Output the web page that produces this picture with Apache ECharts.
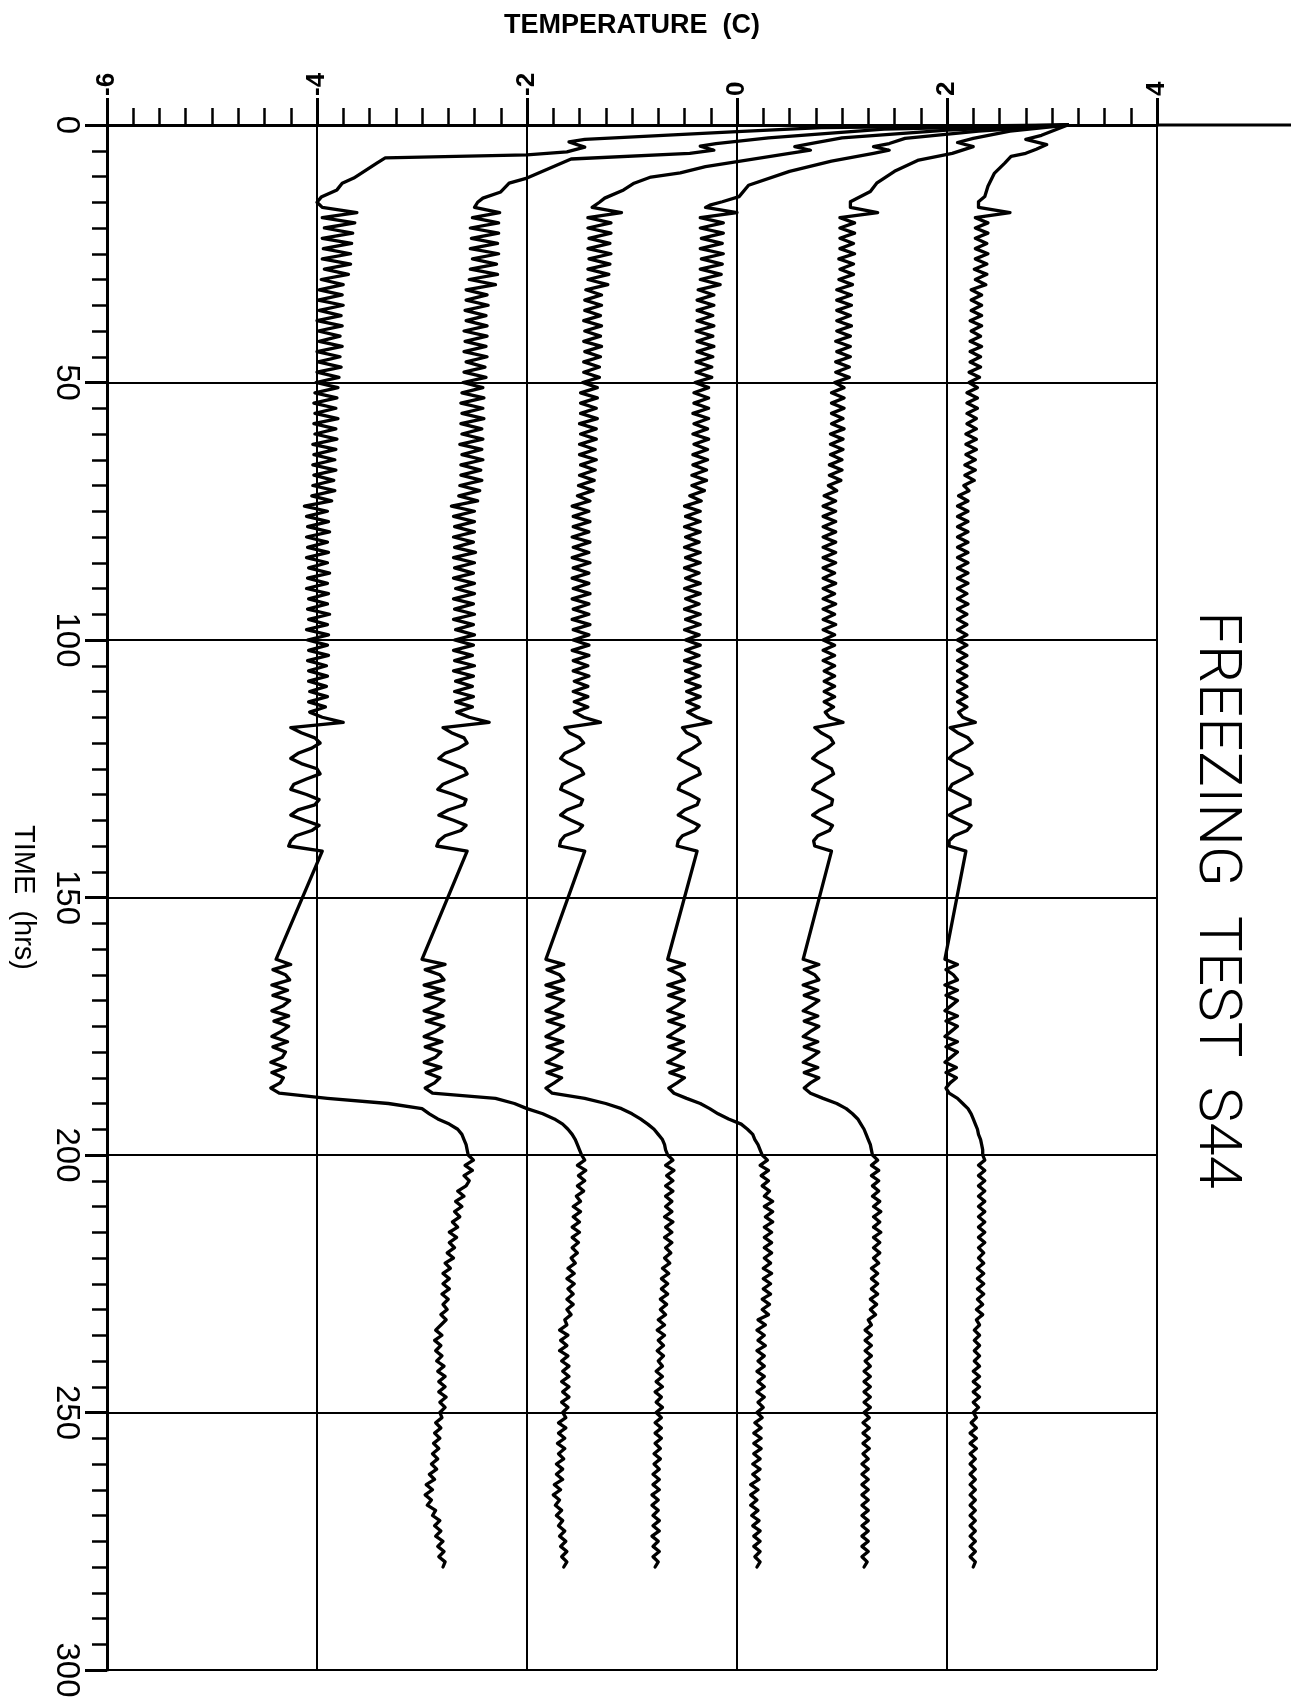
<!DOCTYPE html>
<html><head><meta charset="utf-8">
<script src="https://cdn.jsdelivr.net/npm/echarts@6/dist/echarts.min.js"></script>
<style>html,body{margin:0;padding:0;background:#fff}#c{width:1307px;height:1701px}</style>
</head><body><div id="c"></div>
<script>
// Axis ranges / ticks
const tempMin = -6, tempMax = 4, tempStep = 2;
const timeMin = 0, timeMax = 300, timeStep = 50;
const titleText = 'FREEZING  TEST  S44';
const tempAxisName = 'TEMPERATURE  (C)';
const timeAxisName = 'TIME  (hrs)';

// Early cooling path of each curve: [time (hrs), temperature (C)]
const s1_early = [[0,3.15],[0.5,0.8],[1.3,0],[2.8,-1.45],[3.3,-1.6],[4.3,-1.45],[5.2,-1.62],[5.8,-2.0],[6.4,-3.35],[7.4,-3.43],[10.3,-3.65],[11.3,-3.76],[12.6,-3.81],[14,-3.96],[15,-4.0]];
const s2_early = [[0,3.15],[0.8,1.4],[2.5,0.3],[3.6,-0.2],[4.1,-0.35],[4.9,-0.22],[5.5,-0.45],[6.6,-1.58],[10.3,-2.0],[11.3,-2.17],[13,-2.25],[14.2,-2.42],[15,-2.47]];
const s3_early = [[0,3.15],[1.0,2.0],[2.5,1.0],[3.6,0.7],[4.2,0.55],[4.9,0.7],[5.5,0.5],[8.1,-0.3],[9.3,-0.54],[10.1,-0.82],[11.3,-0.98],[12.6,-1.08],[14.2,-1.26],[15,-1.31]];
const s4_early = [[0,3.15],[1.2,2.3],[2.6,1.6],[3.6,1.45],[4.2,1.3],[4.9,1.45],[5.5,1.3],[7,0.9],[9,0.5],[11.7,0.11],[13.9,0.02],[14.9,-0.14],[15.5,-0.25]];
const s5_early = [[0,3.15],[1.2,2.6],[2.6,2.25],[3.4,2.1],[4.2,2.25],[5.5,2.05],[6.8,1.73],[9,1.5],[11.3,1.33],[12.9,1.27],[14.9,1.08]];
const s6_early = [[0,3.15],[2.0,2.9],[2.8,2.75],[3.8,2.95],[4.7,2.85],[5.5,2.75],[6.1,2.61],[7.4,2.55],[9.4,2.45],[11.9,2.39],[13.9,2.36],[14.9,2.3]];

// Hourly readings, hours 16..141
const s1_a = [
-3.95,-3.62,-3.95,-3.64,-3.93,-3.66,-3.95,-3.67,-3.94,-3.68,
-3.95,-3.68,-3.93,-3.70,-3.96,-3.75,-3.98,-3.76,-3.99,-3.75,
-3.98,-3.77,-4.00,-3.76,-3.99,-3.78,-3.98,-3.76,-4.00,-3.78,
-3.99,-3.77,-4.00,-3.79,-4.01,-3.80,-4.02,-3.81,-4.03,-3.82,
-4.02,-3.80,-4.03,-3.82,-4.02,-3.81,-4.04,-3.82,-4.03,-3.83,
-4.04,-3.82,-4.03,-3.84,-4.04,-3.83,-4.05,-3.86,-4.12,-3.90,
-4.10,-3.89,-4.09,-3.88,-4.10,-3.90,-4.09,-3.89,-4.10,-3.90,
-4.08,-3.88,-4.09,-3.90,-4.10,-3.89,-4.08,-3.90,-4.09,-3.88,
-4.08,-3.90,-4.10,-3.89,-4.09,-3.90,-4.08,-3.89,-4.09,-3.91,
-4.08,-3.90,-4.08,-3.91,-4.07,-3.90,-4.08,-3.92,-4.07,-3.95,
-3.75,-4.25,-4.15,-4.02,-3.97,-4.05,-4.18,-4.25,-4.15,-4.00,
-3.97,-4.10,-4.22,-4.25,-4.10,-3.98,-4.02,-4.18,-4.25,-4.12,
-3.98,-4.05,-4.20,-4.25,-4.27,-3.95];
const s2_a = [
-2.50,-2.26,-2.52,-2.27,-2.54,-2.27,-2.53,-2.28,-2.54,-2.27,
-2.52,-2.29,-2.54,-2.28,-2.55,-2.30,-2.58,-2.38,-2.58,-2.37,
-2.59,-2.39,-2.58,-2.38,-2.60,-2.38,-2.59,-2.39,-2.60,-2.38,
-2.58,-2.40,-2.60,-2.39,-2.61,-2.42,-2.62,-2.41,-2.63,-2.42,
-2.62,-2.41,-2.63,-2.43,-2.62,-2.42,-2.64,-2.43,-2.62,-2.42,
-2.63,-2.44,-2.63,-2.43,-2.64,-2.45,-2.65,-2.47,-2.72,-2.50,
-2.70,-2.50,-2.69,-2.50,-2.70,-2.51,-2.69,-2.49,-2.70,-2.50,
-2.69,-2.51,-2.70,-2.50,-2.68,-2.50,-2.70,-2.51,-2.69,-2.50,
-2.70,-2.51,-2.68,-2.50,-2.69,-2.51,-2.70,-2.52,-2.69,-2.50,
-2.70,-2.51,-2.68,-2.52,-2.69,-2.51,-2.68,-2.52,-2.67,-2.55,
-2.36,-2.80,-2.72,-2.60,-2.57,-2.65,-2.78,-2.84,-2.72,-2.60,
-2.57,-2.68,-2.80,-2.85,-2.70,-2.58,-2.60,-2.75,-2.84,-2.70,
-2.58,-2.63,-2.78,-2.84,-2.86,-2.57];
const s3_a = [
-1.38,-1.10,-1.42,-1.20,-1.42,-1.20,-1.41,-1.21,-1.42,-1.20,
-1.41,-1.21,-1.42,-1.22,-1.42,-1.23,-1.44,-1.29,-1.45,-1.29,
-1.45,-1.30,-1.46,-1.29,-1.45,-1.30,-1.46,-1.29,-1.45,-1.30,
-1.46,-1.31,-1.46,-1.31,-1.47,-1.33,-1.49,-1.33,-1.49,-1.34,
-1.49,-1.33,-1.50,-1.34,-1.49,-1.34,-1.50,-1.35,-1.50,-1.34,
-1.49,-1.35,-1.50,-1.36,-1.51,-1.37,-1.52,-1.40,-1.57,-1.41,
-1.56,-1.40,-1.56,-1.41,-1.57,-1.40,-1.56,-1.41,-1.57,-1.40,
-1.56,-1.41,-1.57,-1.41,-1.56,-1.40,-1.57,-1.41,-1.56,-1.41,
-1.57,-1.40,-1.56,-1.41,-1.56,-1.41,-1.57,-1.41,-1.56,-1.42,
-1.56,-1.41,-1.55,-1.42,-1.56,-1.42,-1.55,-1.42,-1.55,-1.46,
-1.30,-1.64,-1.60,-1.50,-1.46,-1.53,-1.64,-1.68,-1.60,-1.49,
-1.46,-1.56,-1.66,-1.68,-1.57,-1.47,-1.49,-1.62,-1.68,-1.58,
-1.47,-1.51,-1.64,-1.68,-1.69,-1.45];
const s4_a = [
-0.30,0.00,-0.35,-0.13,-0.35,-0.13,-0.34,-0.14,-0.35,-0.13,
-0.34,-0.14,-0.35,-0.15,-0.35,-0.16,-0.37,-0.22,-0.38,-0.22,
-0.38,-0.23,-0.38,-0.22,-0.39,-0.23,-0.38,-0.22,-0.38,-0.23,
-0.39,-0.24,-0.39,-0.24,-0.40,-0.27,-0.41,-0.27,-0.41,-0.27,
-0.42,-0.27,-0.41,-0.28,-0.42,-0.27,-0.41,-0.28,-0.42,-0.28,
-0.42,-0.29,-0.43,-0.29,-0.43,-0.31,-0.45,-0.34,-0.50,-0.35,
-0.49,-0.35,-0.50,-0.35,-0.49,-0.36,-0.50,-0.35,-0.49,-0.35,
-0.50,-0.36,-0.49,-0.35,-0.50,-0.35,-0.49,-0.36,-0.50,-0.35,
-0.49,-0.35,-0.50,-0.36,-0.49,-0.35,-0.49,-0.36,-0.50,-0.35,
-0.49,-0.36,-0.49,-0.35,-0.48,-0.35,-0.48,-0.36,-0.47,-0.38,
-0.25,-0.52,-0.48,-0.38,-0.35,-0.42,-0.52,-0.56,-0.47,-0.37,
-0.35,-0.45,-0.54,-0.56,-0.45,-0.36,-0.38,-0.50,-0.56,-0.46,
-0.36,-0.40,-0.52,-0.56,-0.57,-0.38];
const s5_a = [
1.08,1.34,0.98,1.12,0.98,1.12,0.98,1.11,0.98,1.12,
0.97,1.11,0.98,1.11,0.97,1.10,0.95,1.09,0.95,1.09,
0.95,1.08,0.95,1.09,0.95,1.08,0.94,1.08,0.95,1.08,
0.94,1.07,0.94,1.07,0.93,1.02,0.90,1.02,0.90,1.02,
0.90,1.01,0.90,1.02,0.89,1.01,0.89,1.01,0.89,1.00,
0.88,1.00,0.88,0.99,0.87,0.95,0.83,0.94,0.82,0.94,
0.82,0.94,0.82,0.94,0.82,0.94,0.82,0.94,0.82,0.94,
0.82,0.93,0.82,0.94,0.82,0.93,0.82,0.94,0.82,0.93,
0.82,0.94,0.82,0.93,0.82,0.93,0.82,0.93,0.82,0.93,
0.83,0.93,0.83,0.93,0.83,0.93,0.83,0.92,0.84,0.88,
1.01,0.74,0.80,0.89,0.92,0.86,0.77,0.72,0.80,0.90,
0.92,0.84,0.75,0.72,0.82,0.91,0.90,0.79,0.72,0.81,
0.91,0.88,0.77,0.73,0.74,0.90];
const s6_a = [
2.30,2.60,2.27,2.39,2.27,2.39,2.27,2.38,2.27,2.39,
2.27,2.38,2.26,2.38,2.27,2.37,2.23,2.33,2.23,2.33,
2.23,2.33,2.22,2.33,2.23,2.32,2.22,2.33,2.22,2.32,
2.22,2.32,2.21,2.31,2.21,2.29,2.19,2.29,2.19,2.29,
2.19,2.28,2.19,2.28,2.18,2.28,2.18,2.28,2.18,2.27,
2.17,2.27,2.17,2.26,2.16,2.21,2.11,2.20,2.10,2.20,
2.10,2.20,2.10,2.20,2.10,2.20,2.10,2.20,2.10,2.20,
2.10,2.20,2.10,2.20,2.10,2.19,2.10,2.20,2.10,2.19,
2.10,2.19,2.10,2.19,2.10,2.19,2.10,2.19,2.10,2.19,
2.10,2.19,2.10,2.19,2.10,2.19,2.10,2.19,2.11,2.15,
2.27,2.03,2.10,2.20,2.24,2.17,2.07,2.02,2.10,2.21,
2.24,2.15,2.05,2.02,2.12,2.22,2.22,2.10,2.02,2.12,
2.23,2.19,2.07,2.02,2.02,2.18];

// Hourly readings, hours 162..280 (gap 142..161 is drawn as a straight pen line)
const s1_b = [
-4.39,-4.25,-4.42,-4.30,-4.26,-4.43,-4.28,-4.42,-4.26,-4.32,
-4.43,-4.27,-4.41,-4.27,-4.34,-4.43,-4.28,-4.42,-4.30,-4.33,
-4.44,-4.30,-4.43,-4.32,-4.35,-4.44,-4.36,-3.90,-3.32,-3.00,
-2.93,-2.85,-2.74,-2.66,-2.62,-2.60,-2.58,-2.57,-2.56,-2.51,
-2.59,-2.52,-2.60,-2.55,-2.58,-2.66,-2.60,-2.68,-2.62,-2.69,
-2.64,-2.71,-2.66,-2.74,-2.67,-2.74,-2.69,-2.76,-2.70,-2.78,
-2.73,-2.80,-2.74,-2.80,-2.74,-2.81,-2.75,-2.80,-2.76,-2.82,
-2.77,-2.82,-2.87,-2.81,-2.88,-2.82,-2.87,-2.81,-2.86,-2.79,
-2.85,-2.78,-2.84,-2.78,-2.84,-2.77,-2.83,-2.78,-2.83,-2.81,
-2.87,-2.82,-2.88,-2.83,-2.89,-2.84,-2.90,-2.85,-2.91,-2.86,
-2.93,-2.88,-2.96,-2.90,-2.97,-2.91,-2.95,-2.87,-2.90,-2.83,
-2.88,-2.82,-2.87,-2.80,-2.85,-2.79,-2.84,-2.78,-2.80];
const s2_b = [
-3.00,-2.78,-2.97,-2.83,-2.79,-2.98,-2.80,-2.97,-2.79,-2.86,
-2.98,-2.80,-2.96,-2.79,-2.87,-2.98,-2.81,-2.97,-2.82,-2.87,
-2.98,-2.82,-2.96,-2.83,-2.88,-2.97,-2.90,-2.30,-2.12,-2.00,
-1.85,-1.74,-1.66,-1.61,-1.57,-1.54,-1.52,-1.50,-1.48,-1.45,
-1.52,-1.44,-1.51,-1.45,-1.52,-1.46,-1.53,-1.49,-1.56,-1.49,
-1.56,-1.50,-1.57,-1.50,-1.57,-1.51,-1.57,-1.52,-1.58,-1.54,
-1.61,-1.55,-1.62,-1.55,-1.61,-1.56,-1.62,-1.56,-1.62,-1.58,
-1.64,-1.62,-1.69,-1.61,-1.68,-1.62,-1.69,-1.61,-1.67,-1.60,
-1.66,-1.60,-1.67,-1.60,-1.66,-1.60,-1.67,-1.61,-1.66,-1.63,
-1.70,-1.63,-1.70,-1.64,-1.71,-1.64,-1.70,-1.65,-1.72,-1.66,
-1.72,-1.66,-1.74,-1.68,-1.75,-1.69,-1.73,-1.67,-1.72,-1.66,
-1.70,-1.64,-1.69,-1.63,-1.68,-1.62,-1.67,-1.62,-1.65];
const s3_b = [
-1.82,-1.65,-1.81,-1.69,-1.65,-1.82,-1.66,-1.81,-1.65,-1.72,
-1.82,-1.66,-1.81,-1.65,-1.73,-1.82,-1.66,-1.81,-1.66,-1.73,
-1.82,-1.67,-1.81,-1.67,-1.74,-1.82,-1.76,-1.45,-1.25,-1.10,
-1.00,-0.92,-0.85,-0.79,-0.75,-0.71,-0.69,-0.68,-0.66,-0.61,
-0.68,-0.60,-0.67,-0.61,-0.68,-0.61,-0.68,-0.62,-0.68,-0.62,
-0.69,-0.61,-0.68,-0.62,-0.69,-0.62,-0.68,-0.63,-0.69,-0.64,
-0.71,-0.65,-0.72,-0.66,-0.72,-0.66,-0.73,-0.67,-0.73,-0.68,
-0.75,-0.69,-0.76,-0.69,-0.75,-0.70,-0.76,-0.70,-0.75,-0.71,
-0.77,-0.71,-0.77,-0.71,-0.78,-0.72,-0.77,-0.71,-0.77,-0.72,
-0.78,-0.72,-0.78,-0.72,-0.78,-0.73,-0.79,-0.73,-0.79,-0.74,
-0.80,-0.74,-0.80,-0.74,-0.81,-0.75,-0.81,-0.75,-0.80,-0.74,
-0.80,-0.74,-0.81,-0.75,-0.80,-0.74,-0.80,-0.75,-0.78];
const s4_b = [
-0.66,-0.50,-0.65,-0.54,-0.50,-0.66,-0.51,-0.65,-0.50,-0.57,
-0.66,-0.51,-0.65,-0.50,-0.58,-0.66,-0.51,-0.65,-0.50,-0.57,
-0.66,-0.51,-0.64,-0.50,-0.57,-0.65,-0.60,-0.48,-0.35,-0.26,
-0.18,-0.08,0.04,0.10,0.15,0.17,0.20,0.22,0.24,0.29,
0.22,0.30,0.23,0.30,0.24,0.31,0.26,0.34,0.26,0.34,
0.27,0.34,0.26,0.33,0.26,0.33,0.26,0.33,0.26,0.32,
0.25,0.33,0.25,0.32,0.25,0.32,0.24,0.31,0.24,0.30,
0.20,0.27,0.19,0.26,0.20,0.27,0.19,0.26,0.20,0.26,
0.19,0.26,0.20,0.26,0.19,0.26,0.20,0.25,0.19,0.24,
0.17,0.23,0.16,0.23,0.16,0.23,0.16,0.22,0.15,0.22,
0.15,0.21,0.13,0.20,0.13,0.19,0.13,0.20,0.14,0.21,
0.15,0.22,0.16,0.22,0.16,0.22,0.17,0.22,0.19];
const s5_b = [
0.63,0.78,0.64,0.74,0.78,0.63,0.77,0.64,0.78,0.71,
0.63,0.77,0.64,0.78,0.70,0.63,0.77,0.64,0.78,0.71,
0.63,0.77,0.64,0.78,0.70,0.64,0.70,0.82,0.95,1.04,
1.10,1.15,1.18,1.21,1.23,1.25,1.27,1.28,1.29,1.34,
1.28,1.35,1.28,1.35,1.29,1.35,1.29,1.36,1.30,1.37,
1.30,1.36,1.30,1.37,1.30,1.36,1.30,1.36,1.30,1.35,
1.28,1.34,1.28,1.34,1.28,1.34,1.27,1.33,1.27,1.32,
1.25,1.28,1.22,1.28,1.22,1.28,1.22,1.28,1.22,1.27,
1.21,1.27,1.21,1.27,1.21,1.27,1.21,1.27,1.21,1.26,
1.20,1.26,1.20,1.26,1.20,1.26,1.20,1.25,1.19,1.25,
1.19,1.25,1.19,1.25,1.19,1.25,1.19,1.25,1.19,1.25,
1.19,1.25,1.19,1.25,1.19,1.25,1.19,1.24,1.21];
const s6_b = [
1.98,2.10,1.99,2.06,2.10,1.98,2.10,1.99,2.10,2.04,
1.98,2.10,1.99,2.10,2.04,1.98,2.10,1.99,2.10,2.04,
1.98,2.09,1.99,2.09,2.03,1.99,2.02,2.10,2.15,2.20,
2.23,2.25,2.27,2.29,2.30,2.32,2.33,2.34,2.34,2.36,
2.30,2.36,2.30,2.36,2.30,2.36,2.30,2.36,2.30,2.36,
2.30,2.36,2.30,2.36,2.30,2.36,2.30,2.35,2.30,2.35,
2.29,2.35,2.29,2.35,2.29,2.35,2.29,2.34,2.28,2.34,
2.28,2.31,2.26,2.31,2.26,2.31,2.26,2.31,2.26,2.31,
2.25,2.31,2.25,2.31,2.25,2.31,2.25,2.30,2.25,2.28,
2.23,2.28,2.22,2.28,2.22,2.28,2.22,2.27,2.22,2.27,
2.22,2.27,2.22,2.27,2.22,2.27,2.22,2.27,2.22,2.27,
2.22,2.27,2.22,2.27,2.22,2.27,2.22,2.27,2.25];

const hourStartA = 16, hourStartB = 162;

function build(early, a, b) {
  const out = early.map(p => [p[1], p[0]]);
  a.forEach((v, i) => out.push([v, hourStartA + i]));
  b.forEach((v, i) => out.push([v, hourStartB + i]));
  return out;
}
const curves = [
  build(s1_early, s1_a, s1_b), build(s2_early, s2_a, s2_b), build(s3_early, s3_a, s3_b),
  build(s4_early, s4_a, s4_b), build(s5_early, s5_a, s5_b), build(s6_early, s6_a, s6_b)
];

const chart = echarts.init(document.getElementById('c'), null, {renderer: 'canvas'});
const black = '#000';
chart.setOption({
  backgroundColor: '#fff',
  animation: false,
  grid: {left: 101, top: 125, width: 1056, height: 1545, containLabel: false},
  xAxis: {
    type: 'value', position: 'top', min: tempMin, max: tempMax, interval: tempStep,
    axisLine: {show: true, onZero: false, lineStyle: {color: black, width: 3}},
    axisTick: {show: true, inside: false, length: 27, lineStyle: {color: black, width: 3}},
    minorTick: {show: true, splitNumber: 8, length: 17, lineStyle: {color: black, width: 2.5}},
    axisLabel: {rotate: -90, margin: 29, fontSize: 26, fontWeight: 'bold', color: black, fontFamily: 'Liberation Sans'},
    splitLine: {show: true, lineStyle: {color: black, width: 2}},
    name: tempAxisName, nameLocation: 'middle', nameGap: 86,
    nameTextStyle: {fontSize: 27, fontWeight: 'bold', color: black, fontFamily: 'Liberation Sans'}
  },
  yAxis: {
    type: 'value', inverse: true, min: timeMin, max: timeMax, interval: timeStep,
    axisLine: {show: true, onZero: false, lineStyle: {color: black, width: 3}},
    axisTick: {show: true, inside: false, length: 22, lineStyle: {color: black, width: 3}},
    minorTick: {show: true, splitNumber: 10, length: 15, lineStyle: {color: black, width: 2.5}},
    axisLabel: {rotate: -90, margin: 24, fontSize: 33, color: black, fontFamily: 'Liberation Sans'},
    splitLine: {show: true, lineStyle: {color: black, width: 2}},
    name: timeAxisName, nameLocation: 'middle', nameRotate: -90, nameGap: 70,
    nameTextStyle: {fontSize: 29, color: black, fontFamily: 'Liberation Sans'}
  },
  series: curves.map((d, i) => ({
    type: 'line', name: 'S' + (i + 1), data: d, showSymbol: false, symbol: 'none',
    lineStyle: {color: black, width: 3.3, join: 'round', cap: 'round'}, clip: false, z: 3
  }))
});

// Extend the top axis line beyond the last temperature tick, and place the rotated title
const p4 = chart.convertToPixel({xAxisIndex: 0, yAxisIndex: 0}, [tempMax, timeMin]);
chart.setOption({
  graphic: [
    {type: 'line', shape: {x1: p4[0], y1: p4[1], x2: p4[0] + 134, y2: p4[1]}, style: {stroke: black, lineWidth: 3}},
    {type: 'text', x: 1215, y: 900, rotation: -Math.PI / 2,
     style: {text: titleText, fontSize: 60, fontWeight: 300, fontFamily: 'Roboto', fill: black, textAlign: 'center', textVerticalAlign: 'middle'}}
  ]
});
</script>
</body></html>
